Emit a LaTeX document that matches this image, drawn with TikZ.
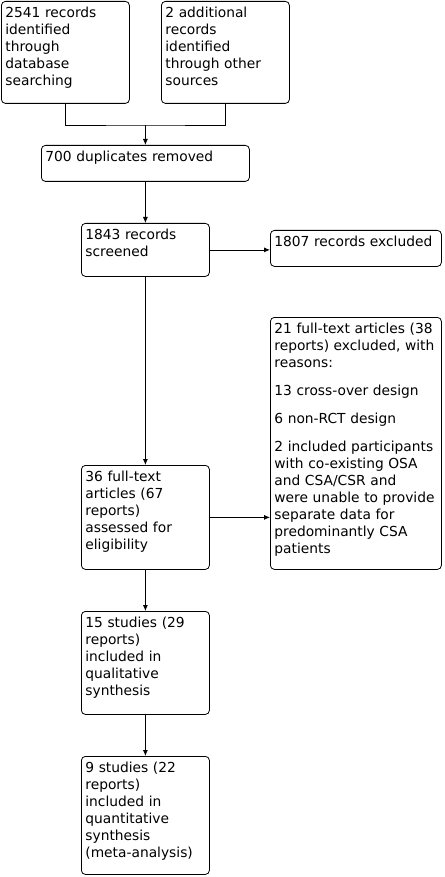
\documentclass[tikz,border=0pt]{standalone}
\usepackage{fontspec}
\setmainfont{DejaVu Sans}
\usetikzlibrary{arrows.meta}

\tikzset{
  box/.style={draw, % rounded border
              rounded corners=4pt,
              anchor=north west, % placed by its top left corner
              align=left,
              inner xsep=4pt, inner ysep=4pt,
              text height=12pt, % first line, the rest goes into text depth
              font=\fontsize{13.8}{17}\selectfont},
  arr/.style={-{Latex[length=6pt,width=5pt]}}
}

\begin{document}
\begin{tikzpicture}[x=1pt,y=-1pt,line width=0.8pt]
\useasboundingbox (0,0) rectangle (444,877);

% identification
\node[box, text width=120pt, text depth=82pt] (dbrec) at (1,1)
  {2541 records\\identified\\through\\database\\searching};
\node[box, text width=120pt, text depth=82pt] (othrec) at (161,1)
  {2 additional\\records\\identified\\through other\\sources};
\node[box, text width=200pt, text depth=16pt] (dupl) at (41,145)
  {700 duplicates removed};

% screening
\node[box, text width=120pt, text depth=33pt] (screen) at (81,223)
  {1843 records\\screened};
\node[box, text width=163pt, text depth=16pt] (excl) at (270,230)
  {1807 records excluded};

% eligibility
\node[box, text width=120pt, text depth=84pt] (fulltxt) at (81,465)
  {36 full-text\\articles (67\\reports)\\assessed for\\eligibility};
\node[box, text width=163pt, text depth=232pt] (ftexcl) at (270,317)
  {21 full-text articles (38\\reports) excluded, with\\reasons:\\[11pt]
   13 cross-over design\\[11pt]
   6 non-RCT design\\[11pt]
   2 included participants\\with co-existing OSA\\and CSA/CSR and\\were unable to provide\\separate data for\\predominantly CSA\\patients};

% included
\node[box, text width=120pt, text depth=83pt] (quali) at (81,611)
  {15 studies (29\\reports)\\included in\\qualitative\\synthesis};
\node[box, text width=120pt, text depth=98pt] (quanti) at (81,756)
  {9 studies (22\\reports)\\included in\\quantitative\\synthesis\\(meta-analysis)};

\coordinate (merge) at (dupl.north |- 0,125);
\draw (dbrec.south) |- (merge) -| (othrec.south);
\draw[arr] (merge) -- (dupl.north);
\draw[arr] (dupl.south) -- (screen.north);
\draw[arr] (screen.east) -- (screen.east -| excl.west);
\draw[arr] (screen.south) -- (fulltxt.north);
\draw[arr] (fulltxt.east) -- (fulltxt.east -| ftexcl.west);
\draw[arr] (fulltxt.south) -- (quali.north);
\draw[arr] (quali.south) -- (quanti.north);

\end{tikzpicture}
\end{document}
